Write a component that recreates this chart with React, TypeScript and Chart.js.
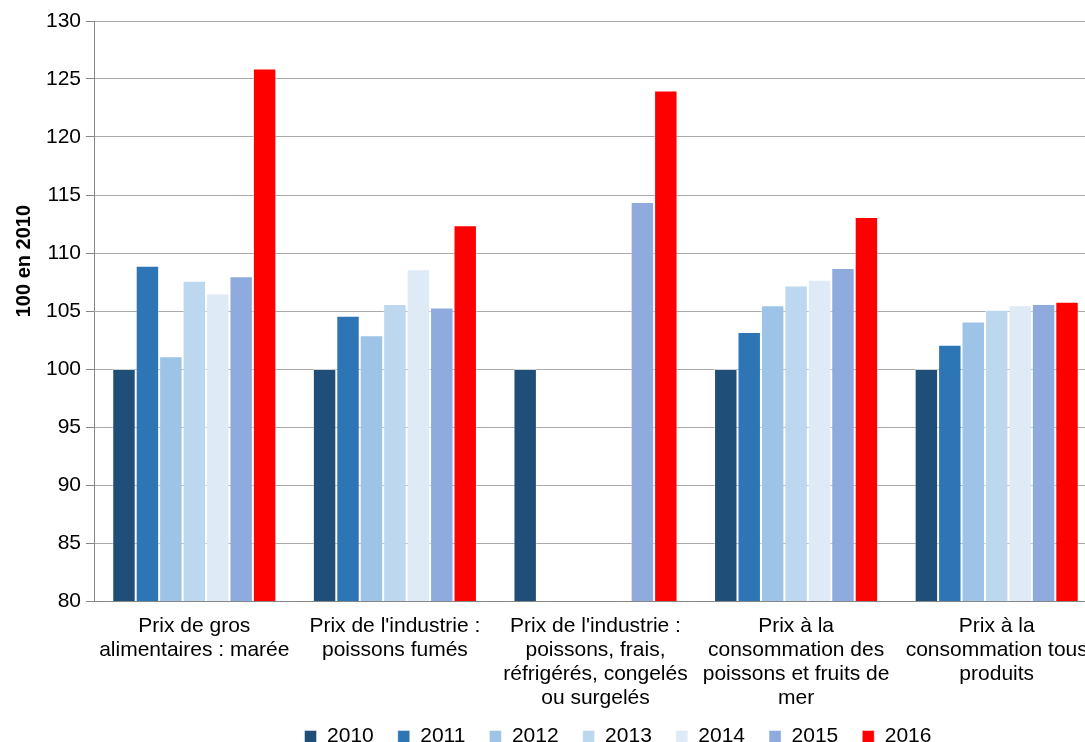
import React, { useEffect, useRef } from "react";
import { Chart, registerables } from "chart.js";

Chart.register(...registerables);

const categories: string[][] = [
  ["Prix de gros", "alimentaires : marée"],
  ["Prix de l'industrie :", "poissons fumés"],
  ["Prix de l'industrie :", "poissons, frais,", "réfrigérés, congelés", "ou surgelés"],
  ["Prix à la", "consommation des", "poissons et fruits de", "mer"],
  ["Prix à la", "consommation tous", "produits"],
];

const years = ["2010", "2011", "2012", "2013", "2014", "2015", "2016"];

const v2010 = [100, 100, 100, 100, 100];
const v2011 = [108.9, 104.6, null, 103.2, 102.1];
const v2012 = [101.1, 102.9, null, 105.5, 104.1];
const v2013 = [107.6, 105.6, null, 107.2, 105.1];
const v2014 = [106.5, 108.6, null, 107.7, 105.5];
const v2015 = [108.0, 105.3, 114.4, 108.7, 105.6];
const v2016 = [125.9, 112.4, 124.0, 113.1, 105.8];

const seriesValues = [v2010, v2011, v2012, v2013, v2014, v2015, v2016];
const seriesColors = ["#1F4E79", "#2E75B6", "#9DC3E6", "#BDD7EE", "#DEEAF6", "#8FAADC", "#FF0000"];

const yTitle = "100 en 2010";
const yMin = 80;
const yMax = 130;
const yStep = 5;

// Vertical axis title, drawn a little above the middle of the value axis
const axisTitlePlugin = {
  id: "axisTitle",
  afterDraw(chart: any) {
    const { ctx, chartArea } = chart;
    ctx.save();
    ctx.font = "bold 20px 'Liberation Sans', Arial, sans-serif";
    ctx.fillStyle = "#000";
    ctx.textAlign = "center";
    ctx.textBaseline = "middle";
    ctx.translate(24, chartArea.top + chartArea.height * 0.414);
    ctx.rotate(-Math.PI / 2);
    ctx.fillText(yTitle, 0, 0);
    ctx.restore();
  },
};

export default function App() {
  const canvasRef = useRef<HTMLCanvasElement | null>(null);

  useEffect(() => {
    if (!canvasRef.current) return;
    Chart.defaults.font.family = "'Liberation Sans', Arial, sans-serif";
    const chart = new Chart(canvasRef.current, {
      type: "bar",
      data: {
        labels: categories,
        datasets: years.map((y, i) => ({
          label: y,
          data: seriesValues[i],
          backgroundColor: seriesColors[i],
          borderColor: "rgba(255,255,255,0.45)",
          borderWidth: 1,
          categoryPercentage: 0.818,
          barPercentage: 1,
        })),
      },
      plugins: [axisTitlePlugin],
      options: {
        responsive: false,
        animation: false,
        devicePixelRatio: 1,
        layout: { padding: { top: 21, left: 0, right: 0, bottom: 0 } },
        plugins: {
          tooltip: { enabled: false },
          legend: {
            position: "bottom",
            labels: {
              boxWidth: 12,
              boxHeight: 12,
              padding: 24,
              color: "#000",
              font: { size: 21 },
            },
          },
        },
        scales: {
          x: {
            grid: { display: false },
            border: { display: true, color: "#868686", width: 1 },
            ticks: {
              color: "#000",
              font: { size: 21, lineHeight: 24 / 21 },
              padding: 5,
              maxRotation: 0,
              autoSkip: false,
            },
            afterFit: (s: any) => {
              s.height = 101;
              // let the four-line category labels run past the axis box
              s._computeLabelArea = () => undefined;
            },
          },
          y: {
            min: yMin,
            max: yMax,
            ticks: { stepSize: yStep, color: "#000", font: { size: 21 }, padding: 5 },
            grid: { color: "#AAAAAA", lineWidth: 1, tickLength: 8, tickColor: "#868686" },
            border: { display: true, color: "#868686", width: 1 },
            afterFit: (s: any) => {
              s.width = 94;
            },
          },
          yRight: {
            position: "right",
            display: true,
            grid: { display: false },
            border: { display: false },
            ticks: { display: false },
            afterFit: (s: any) => {
              s.width = 139;
            },
          },
        },
      },
    });
    return () => chart.destroy();
  }, []);

  return (
    <div style={{ position: "fixed", left: 0, top: 0, width: 1085, height: 742, overflow: "hidden", background: "#fff" }}>
      <canvas ref={canvasRef} width={1236} height={757} style={{ display: "block" }} />
    </div>
  );
}
